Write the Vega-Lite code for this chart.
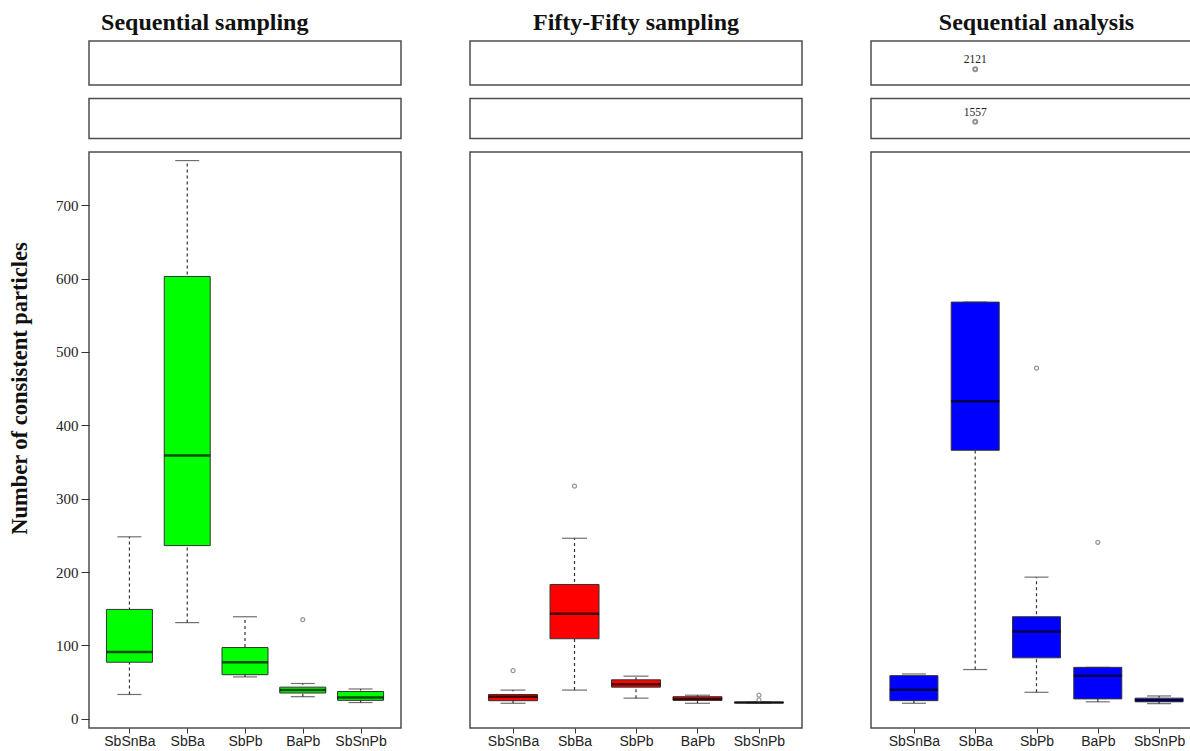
{
  "$schema": "https://vega.github.io/schema/vega-lite/v6.json",
  "padding": {"left": 7, "top": 11, "right": 0, "bottom": 0},
  "background": "white",
  "spacing": 67,
  "datasets": {
    "stats": [
      {"panel": "Sequential sampling", "combo": "SbSnBa", "lo": 33, "q1": 77, "med": 91, "q3": 149, "hi": 248},
      {"panel": "Sequential sampling", "combo": "SbBa", "lo": 131, "q1": 236, "med": 359, "q3": 603, "hi": 761},
      {"panel": "Sequential sampling", "combo": "SbPb", "lo": 57, "q1": 60, "med": 77, "q3": 97, "hi": 139},
      {"panel": "Sequential sampling", "combo": "BaPb", "lo": 30, "q1": 35, "med": 39, "q3": 43, "hi": 48},
      {"panel": "Sequential sampling", "combo": "SbSnPb", "lo": 22, "q1": 25, "med": 29, "q3": 37, "hi": 40.5},
      {"panel": "Fifty-Fifty sampling", "combo": "SbSnBa", "lo": 21, "q1": 24.5, "med": 30, "q3": 33, "hi": 39},
      {"panel": "Fifty-Fifty sampling", "combo": "SbBa", "lo": 39, "q1": 109, "med": 143, "q3": 183, "hi": 246},
      {"panel": "Fifty-Fifty sampling", "combo": "SbPb", "lo": 28, "q1": 43, "med": 47, "q3": 53, "hi": 58},
      {"panel": "Fifty-Fifty sampling", "combo": "BaPb", "lo": 21, "q1": 25, "med": 27, "q3": 30, "hi": 32},
      {"panel": "Fifty-Fifty sampling", "combo": "SbSnPb", "lo": 21.5, "q1": 21.5, "med": 22, "q3": 22.5, "hi": 22.5},
      {"panel": "Sequential analysis", "combo": "SbSnBa", "lo": 21, "q1": 24.6, "med": 39.6, "q3": 58.7, "hi": 61},
      {"panel": "Sequential analysis", "combo": "SbBa", "lo": 67, "q1": 366, "med": 433, "q3": 568, "hi": 568},
      {"panel": "Sequential analysis", "combo": "SbPb", "lo": 36, "q1": 83, "med": 119, "q3": 139, "hi": 193},
      {"panel": "Sequential analysis", "combo": "BaPb", "lo": 23, "q1": 27, "med": 58.7, "q3": 70, "hi": 70},
      {"panel": "Sequential analysis", "combo": "SbSnPb", "lo": 20.5, "q1": 23, "med": 25, "q3": 28, "hi": 31}
    ],
    "outliers": [
      {"panel": "Sequential sampling", "combo": "BaPb", "value": 135},
      {"panel": "Fifty-Fifty sampling", "combo": "SbSnBa", "value": 65.5},
      {"panel": "Fifty-Fifty sampling", "combo": "SbBa", "value": 317},
      {"panel": "Fifty-Fifty sampling", "combo": "SbSnPb", "value": 32},
      {"panel": "Fifty-Fifty sampling", "combo": "SbSnPb", "value": 25.5},
      {"panel": "Sequential analysis", "combo": "SbPb", "value": 478},
      {"panel": "Sequential analysis", "combo": "BaPb", "value": 240.5},
      {"panel": "Sequential analysis", "combo": "SbBa", "value": 1557},
      {"panel": "Sequential analysis", "combo": "SbBa", "value": 2121}
    ]
  },
  "config": {
    "view": {"stroke": "#4d4d4d", "strokeWidth": 1.5},
    "axis": {"grid": false, "domain": false, "tickColor": "#333", "labelColor": "#222"},
    "title": {"font": "Liberation Serif", "fontSize": 24, "fontWeight": "bold", "color": "#111", "anchor": "middle", "offset": 5}
  },
  "hconcat": [
    {
      "title": "Sequential sampling",
      "spacing": 11.5,
      "vconcat": [
        {
          "width": 312, "height": 44,
          "data": {"name": "outliers"},
          "transform": [{"filter": "datum.panel === 'Sequential sampling' && datum.value > 1800"}],
          "mark": {"type": "point", "size": 16, "color": "#666", "filled": false},
          "encoding": {
            "x": {"field": "combo", "type": "nominal", "scale": {"type": "point", "domain": ["SbSnBa", "SbBa", "SbPb", "BaPb", "SbSnPb"], "padding": 0.7}, "axis": null},
            "y": {"field": "value", "type": "quantitative", "scale": {"domain": [2085, 2185], "zero": false, "nice": false}, "axis": null}
          }
        },
        {
          "width": 312, "height": 40,
          "data": {"name": "outliers"},
          "transform": [{"filter": "datum.panel === 'Sequential sampling' && datum.value > 1400 && datum.value < 1800"}],
          "mark": {"type": "point", "size": 16, "color": "#666", "filled": false},
          "encoding": {
            "x": {"field": "combo", "type": "nominal", "scale": {"type": "point", "domain": ["SbSnBa", "SbBa", "SbPb", "BaPb", "SbSnPb"], "padding": 0.7}, "axis": null},
            "y": {"field": "value", "type": "quantitative", "scale": {"domain": [1515, 1615], "zero": false, "nice": false}, "axis": null}
          }
        },
        {
          "width": 312, "height": 576,
          "encoding": {
            "x": {"field": "combo", "type": "nominal", "scale": {"type": "point", "domain": ["SbSnBa", "SbBa", "SbPb", "BaPb", "SbSnPb"], "padding": 0.7}, "axis": {"title": null, "tickSize": 5, "labelFont": "Liberation Sans", "labelFontSize": 14, "labelAngle": 0, "labelPadding": 1}}
          },
          "layer": [
            {
              "data": {"name": "stats"},
              "transform": [{"filter": "datum.panel === 'Sequential sampling'"}],
              "mark": {"type": "rule", "strokeDash": [3, 3], "color": "#333", "strokeWidth": 1.2},
              "encoding": {
                "y": {"field": "lo", "type": "quantitative", "scale": {"domain": [-12.7, 772.7], "zero": false, "nice": false}, "axis": {"title": "Number of consistent particles", "values": [0, 100, 200, 300, 400, 500, 600, 700], "tickSize": 8, "labelPadding": 3, "labelFont": "Liberation Serif", "labelFontSize": 15, "titleFont": "Liberation Serif", "titleFontSize": 22.5, "titleFontWeight": "bold", "titleColor": "#111", "titlePadding": 24, "titleY": 236}},
                "y2": {"field": "hi"}
              }
            },
            {
              "data": {"name": "stats"},
              "transform": [{"filter": "datum.panel === 'Sequential sampling'"}],
              "mark": {"type": "tick", "size": 24, "thickness": 1.2, "color": "#333"},
              "encoding": {"y": {"field": "lo", "type": "quantitative"}}
            },
            {
              "data": {"name": "stats"},
              "transform": [{"filter": "datum.panel === 'Sequential sampling'"}],
              "mark": {"type": "tick", "size": 24, "thickness": 1.2, "color": "#333"},
              "encoding": {"y": {"field": "hi", "type": "quantitative"}}
            },
            {
              "data": {"name": "stats"},
              "transform": [{"filter": "datum.panel === 'Sequential sampling'"}],
              "mark": {"type": "bar", "size": 46, "stroke": "#333", "strokeWidth": 1},
              "encoding": {
                "y": {"field": "q1", "type": "quantitative"},
                "y2": {"field": "q3"},
                "color": {"field": "panel", "type": "nominal", "scale": {"domain": ["Sequential sampling", "Fifty-Fifty sampling", "Sequential analysis"], "range": ["#00ff00", "#ff0000", "#0000ff"]}, "legend": null}
              }
            },
            {
              "data": {"name": "stats"},
              "transform": [{"filter": "datum.panel === 'Sequential sampling'"}],
              "mark": {"type": "tick", "size": 46, "thickness": 2.5, "color": "#000"},
              "encoding": {"y": {"field": "med", "type": "quantitative"}}
            },
            {
              "data": {"name": "outliers"},
              "transform": [{"filter": "datum.panel === 'Sequential sampling' && datum.value < 800"}],
              "mark": {"type": "point", "size": 16, "color": "#666", "filled": false, "strokeWidth": 1.2},
              "encoding": {"y": {"field": "value", "type": "quantitative"}}
            }
          ]
        }
      ]
    },
    {
      "title": "Fifty-Fifty sampling",
      "spacing": 11.5,
      "vconcat": [
        {
          "width": 332, "height": 44,
          "data": {"name": "outliers"},
          "transform": [{"filter": "datum.panel === 'Fifty-Fifty sampling' && datum.value > 1800"}],
          "mark": {"type": "point", "size": 16, "color": "#666", "filled": false},
          "encoding": {
            "x": {"field": "combo", "type": "nominal", "scale": {"type": "point", "domain": ["SbSnBa", "SbBa", "SbPb", "BaPb", "SbSnPb"], "padding": 0.7}, "axis": null},
            "y": {"field": "value", "type": "quantitative", "scale": {"domain": [2085, 2185], "zero": false, "nice": false}, "axis": null}
          }
        },
        {
          "width": 332, "height": 40,
          "data": {"name": "outliers"},
          "transform": [{"filter": "datum.panel === 'Fifty-Fifty sampling' && datum.value > 1400 && datum.value < 1800"}],
          "mark": {"type": "point", "size": 16, "color": "#666", "filled": false},
          "encoding": {
            "x": {"field": "combo", "type": "nominal", "scale": {"type": "point", "domain": ["SbSnBa", "SbBa", "SbPb", "BaPb", "SbSnPb"], "padding": 0.7}, "axis": null},
            "y": {"field": "value", "type": "quantitative", "scale": {"domain": [1515, 1615], "zero": false, "nice": false}, "axis": null}
          }
        },
        {
          "width": 332, "height": 576,
          "encoding": {
            "x": {"field": "combo", "type": "nominal", "scale": {"type": "point", "domain": ["SbSnBa", "SbBa", "SbPb", "BaPb", "SbSnPb"], "padding": 0.7}, "axis": {"title": null, "tickSize": 5, "labelFont": "Liberation Sans", "labelFontSize": 14, "labelAngle": 0, "labelPadding": 1}}
          },
          "layer": [
            {
              "data": {"name": "stats"},
              "transform": [{"filter": "datum.panel === 'Fifty-Fifty sampling'"}],
              "mark": {"type": "rule", "strokeDash": [3, 3], "color": "#333", "strokeWidth": 1.2},
              "encoding": {
                "y": {"field": "lo", "type": "quantitative", "scale": {"domain": [-12.7, 772.7], "zero": false, "nice": false}, "axis": null},
                "y2": {"field": "hi"}
              }
            },
            {
              "data": {"name": "stats"},
              "transform": [{"filter": "datum.panel === 'Fifty-Fifty sampling'"}],
              "mark": {"type": "tick", "size": 25, "thickness": 1.2, "color": "#333"},
              "encoding": {"y": {"field": "lo", "type": "quantitative", "axis": null}}
            },
            {
              "data": {"name": "stats"},
              "transform": [{"filter": "datum.panel === 'Fifty-Fifty sampling'"}],
              "mark": {"type": "tick", "size": 25, "thickness": 1.2, "color": "#333"},
              "encoding": {"y": {"field": "hi", "type": "quantitative", "axis": null}}
            },
            {
              "data": {"name": "stats"},
              "transform": [{"filter": "datum.panel === 'Fifty-Fifty sampling'"}],
              "mark": {"type": "bar", "size": 49, "stroke": "#333", "strokeWidth": 1},
              "encoding": {
                "y": {"field": "q1", "type": "quantitative", "axis": null},
                "y2": {"field": "q3"},
                "color": {"field": "panel", "type": "nominal", "scale": {"domain": ["Sequential sampling", "Fifty-Fifty sampling", "Sequential analysis"], "range": ["#00ff00", "#ff0000", "#0000ff"]}, "legend": null}
              }
            },
            {
              "data": {"name": "stats"},
              "transform": [{"filter": "datum.panel === 'Fifty-Fifty sampling'"}],
              "mark": {"type": "tick", "size": 49, "thickness": 2.5, "color": "#000"},
              "encoding": {"y": {"field": "med", "type": "quantitative", "axis": null}}
            },
            {
              "data": {"name": "outliers"},
              "transform": [{"filter": "datum.panel === 'Fifty-Fifty sampling' && datum.value < 800"}],
              "mark": {"type": "point", "size": 16, "color": "#666", "filled": false, "strokeWidth": 1.2},
              "encoding": {"y": {"field": "value", "type": "quantitative", "axis": null}}
            }
          ]
        }
      ]
    },
    {
      "title": "Sequential analysis",
      "spacing": 11.5,
      "vconcat": [
        {
          "width": 331, "height": 44,
          "data": {"name": "outliers"},
          "transform": [{"filter": "datum.panel === 'Sequential analysis' && datum.value > 1800"}],
          "encoding": {
            "x": {"field": "combo", "type": "nominal", "scale": {"type": "point", "domain": ["SbSnBa", "SbBa", "SbPb", "BaPb", "SbSnPb"], "padding": 0.7}, "axis": null},
            "y": {"field": "value", "type": "quantitative", "scale": {"domain": [2085, 2185], "zero": false, "nice": false}, "axis": null}
          },
          "layer": [
            {"mark": {"type": "point", "size": 16, "color": "#666", "filled": false}},
            {"mark": {"type": "text", "dy": -9, "font": "Liberation Serif", "fontSize": 11.5, "color": "#222"}, "encoding": {"text": {"field": "value", "type": "quantitative", "format": "d"}}}
          ]
        },
        {
          "width": 331, "height": 40,
          "data": {"name": "outliers"},
          "transform": [{"filter": "datum.panel === 'Sequential analysis' && datum.value > 1400 && datum.value < 1800"}],
          "encoding": {
            "x": {"field": "combo", "type": "nominal", "scale": {"type": "point", "domain": ["SbSnBa", "SbBa", "SbPb", "BaPb", "SbSnPb"], "padding": 0.7}, "axis": null},
            "y": {"field": "value", "type": "quantitative", "scale": {"domain": [1515, 1615], "zero": false, "nice": false}, "axis": null}
          },
          "layer": [
            {"mark": {"type": "point", "size": 16, "color": "#666", "filled": false}},
            {"mark": {"type": "text", "dy": -9, "font": "Liberation Serif", "fontSize": 11.5, "color": "#222"}, "encoding": {"text": {"field": "value", "type": "quantitative", "format": "d"}}}
          ]
        },
        {
          "width": 331, "height": 576,
          "encoding": {
            "x": {"field": "combo", "type": "nominal", "scale": {"type": "point", "domain": ["SbSnBa", "SbBa", "SbPb", "BaPb", "SbSnPb"], "padding": 0.7}, "axis": {"title": null, "tickSize": 5, "labelFont": "Liberation Sans", "labelFontSize": 14, "labelAngle": 0, "labelPadding": 1}}
          },
          "layer": [
            {
              "data": {"name": "stats"},
              "transform": [{"filter": "datum.panel === 'Sequential analysis'"}],
              "mark": {"type": "rule", "strokeDash": [3, 3], "color": "#333", "strokeWidth": 1.2},
              "encoding": {
                "y": {"field": "lo", "type": "quantitative", "scale": {"domain": [-12.7, 772.7], "zero": false, "nice": false}, "axis": null},
                "y2": {"field": "hi"}
              }
            },
            {
              "data": {"name": "stats"},
              "transform": [{"filter": "datum.panel === 'Sequential analysis'"}],
              "mark": {"type": "tick", "size": 24, "thickness": 1.2, "color": "#333"},
              "encoding": {"y": {"field": "lo", "type": "quantitative", "axis": null}}
            },
            {
              "data": {"name": "stats"},
              "transform": [{"filter": "datum.panel === 'Sequential analysis'"}],
              "mark": {"type": "tick", "size": 24, "thickness": 1.2, "color": "#333"},
              "encoding": {"y": {"field": "hi", "type": "quantitative", "axis": null}}
            },
            {
              "data": {"name": "stats"},
              "transform": [{"filter": "datum.panel === 'Sequential analysis'"}],
              "mark": {"type": "bar", "size": 48, "stroke": "#333", "strokeWidth": 1},
              "encoding": {
                "y": {"field": "q1", "type": "quantitative", "axis": null},
                "y2": {"field": "q3"},
                "color": {"field": "panel", "type": "nominal", "scale": {"domain": ["Sequential sampling", "Fifty-Fifty sampling", "Sequential analysis"], "range": ["#00ff00", "#ff0000", "#0000ff"]}, "legend": null}
              }
            },
            {
              "data": {"name": "stats"},
              "transform": [{"filter": "datum.panel === 'Sequential analysis'"}],
              "mark": {"type": "tick", "size": 48, "thickness": 2.5, "color": "#000"},
              "encoding": {"y": {"field": "med", "type": "quantitative", "axis": null}}
            },
            {
              "data": {"name": "outliers"},
              "transform": [{"filter": "datum.panel === 'Sequential analysis' && datum.value < 800"}],
              "mark": {"type": "point", "size": 16, "color": "#666", "filled": false, "strokeWidth": 1.2},
              "encoding": {"y": {"field": "value", "type": "quantitative", "axis": null}}
            }
          ]
        }
      ]
    }
  ]
}
